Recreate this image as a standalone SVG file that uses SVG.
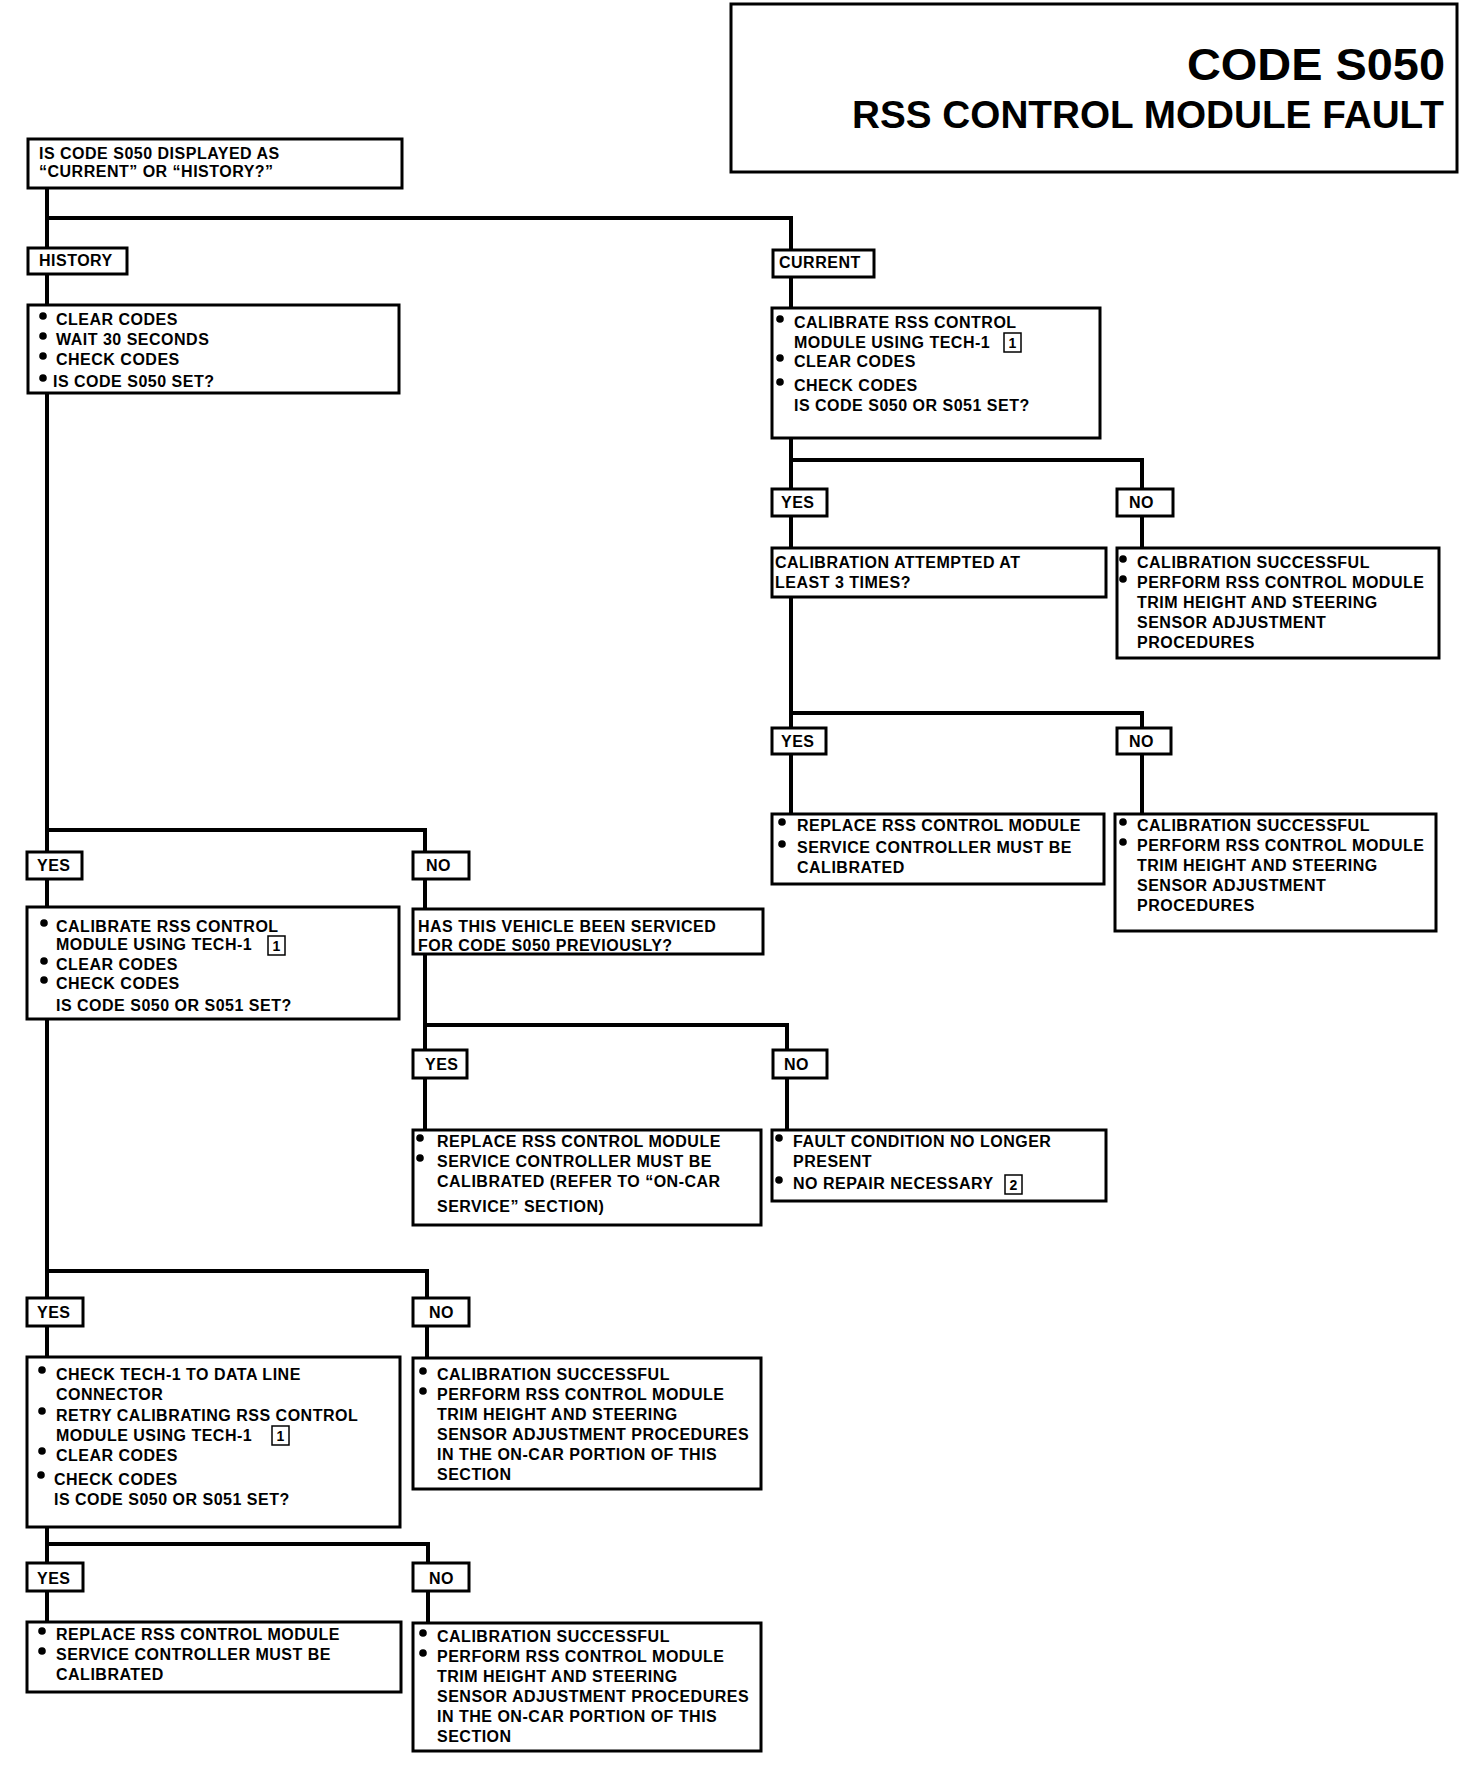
<svg xmlns="http://www.w3.org/2000/svg" width="1472" height="1774" viewBox="0 0 1472 1774">
<style>
.box{fill:#fff;stroke:#000;stroke-width:3}
.c{stroke:#000;stroke-width:4;fill:none}
.t{font-family:"Liberation Sans",Arial,sans-serif;font-weight:bold;font-size:16px;letter-spacing:0.5px;fill:#000}
.fn{fill:#fff;stroke:#000;stroke-width:1.5}
.fnt{font-family:"Liberation Sans",Arial,sans-serif;font-weight:bold;font-size:14px;fill:#000;text-anchor:middle}
.ttl{font-family:"Liberation Sans",Arial,sans-serif;font-weight:bold;fill:#000}
</style>
<defs>
<circle id="b" r="3.8" fill="#000"/>
</defs>
<rect width="1472" height="1774" fill="#fff"/>

<g id="connectors">
<path class="c" d="M47 189 V1622"/>
<path class="c" d="M47 218 H791 V814"/>
<path class="c" d="M791 460 H1142 V548"/>
<path class="c" d="M791 713 H1142 V814"/>
<path class="c" d="M47 830 H425 V1130"/>
<path class="c" d="M425 1025 H787 V1130"/>
<path class="c" d="M47 1271 H427 V1358"/>
<path class="c" d="M47 1544 H428 V1623"/>
</g>

<g id="title">
<rect class="box" x="731" y="4" width="726" height="168"/>
<text class="ttl" x="1187" y="80" font-size="45" textLength="258" lengthAdjust="spacingAndGlyphs">CODE S050</text>
<text class="ttl" x="852" y="128" font-size="39" textLength="592" lengthAdjust="spacingAndGlyphs">RSS CONTROL MODULE FAULT</text>
</g>

<g id="q0">
<rect class="box" x="28" y="139" width="374" height="49"/>
<text class="t" x="39" y="159">IS CODE S050 DISPLAYED AS</text>
<text class="t" x="39" y="177">“CURRENT” OR “HISTORY?”</text>
</g>

<g id="history">
<rect class="box" x="28" y="248" width="99" height="26"/>
<text class="t" x="39" y="266">HISTORY</text>
</g>

<g id="clear">
<rect class="box" x="28" y="305" width="371" height="88"/>
<use href="#b" x="43" y="316"/><use href="#b" x="43" y="336"/><use href="#b" x="43" y="356"/><use href="#b" x="43" y="378"/>
<text class="t" x="56" y="325">CLEAR CODES</text>
<text class="t" x="56" y="345">WAIT 30 SECONDS</text>
<text class="t" x="56" y="365">CHECK CODES</text>
<text class="t" x="53" y="387">IS CODE S050 SET?</text>
</g>

<g id="current">
<rect class="box" x="773" y="250" width="101" height="27"/>
<text class="t" x="779" y="268">CURRENT</text>
</g>

<g id="curcal">
<rect class="box" x="772" y="308" width="328" height="130"/>
<use href="#b" x="780" y="319"/><use href="#b" x="780" y="358"/><use href="#b" x="780" y="382"/>
<text class="t" x="794" y="328">CALIBRATE RSS CONTROL</text>
<text class="t" x="794" y="348">MODULE USING TECH-1</text>
<rect class="fn" x="1004" y="333" width="17" height="19"/>
<text class="fnt" x="1012.5" y="348">1</text>
<text class="t" x="794" y="367">CLEAR CODES</text>
<text class="t" x="794" y="391">CHECK CODES</text>
<text class="t" x="794" y="411">IS CODE S050 OR S051 SET?</text>
</g>

<g id="yes_r1"><rect class="box" x="772" y="489" width="55" height="27"/><text class="t" x="781" y="508">YES</text></g>
<g id="no_r1"><rect class="box" x="1117" y="489" width="56" height="27"/><text class="t" x="1129" y="508">NO</text></g>

<g id="attempted">
<rect class="box" x="772" y="548" width="334" height="49"/>
<text class="t" x="775" y="568">CALIBRATION ATTEMPTED AT</text>
<text class="t" x="775" y="588">LEAST 3 TIMES?</text>
</g>

<g id="succ_r1">
<rect class="box" x="1117" y="548" width="322" height="110"/>
<use href="#b" x="1123" y="559"/><use href="#b" x="1123" y="579"/>
<text class="t" x="1137" y="568">CALIBRATION SUCCESSFUL</text>
<text class="t" x="1137" y="588">PERFORM RSS CONTROL MODULE</text>
<text class="t" x="1137" y="608">TRIM HEIGHT AND STEERING</text>
<text class="t" x="1137" y="628">SENSOR ADJUSTMENT</text>
<text class="t" x="1137" y="648">PROCEDURES</text>
</g>

<g id="yes_r2"><rect class="box" x="772" y="728" width="54" height="26"/><text class="t" x="781" y="747">YES</text></g>
<g id="no_r2"><rect class="box" x="1117" y="728" width="54" height="26"/><text class="t" x="1129" y="747">NO</text></g>

<g id="replace_r">
<rect class="box" x="772" y="814" width="332" height="70"/>
<use href="#b" x="782" y="822"/><use href="#b" x="782" y="844"/>
<text class="t" x="797" y="831">REPLACE RSS CONTROL MODULE</text>
<text class="t" x="797" y="853">SERVICE CONTROLLER MUST BE</text>
<text class="t" x="797" y="873">CALIBRATED</text>
</g>

<g id="succ_r2">
<rect class="box" x="1115" y="814" width="321" height="117"/>
<use href="#b" x="1123" y="822"/><use href="#b" x="1123" y="842"/>
<text class="t" x="1137" y="831">CALIBRATION SUCCESSFUL</text>
<text class="t" x="1137" y="851">PERFORM RSS CONTROL MODULE</text>
<text class="t" x="1137" y="871">TRIM HEIGHT AND STEERING</text>
<text class="t" x="1137" y="891">SENSOR ADJUSTMENT</text>
<text class="t" x="1137" y="911">PROCEDURES</text>
</g>

<g id="yes_l1"><rect class="box" x="27" y="852" width="55" height="27"/><text class="t" x="37" y="871">YES</text></g>
<g id="no_l1"><rect class="box" x="413" y="852" width="56" height="27"/><text class="t" x="426" y="871">NO</text></g>

<g id="cal_l">
<rect class="box" x="27" y="907" width="372" height="112"/>
<use href="#b" x="44" y="923"/><use href="#b" x="44" y="961"/><use href="#b" x="44" y="980"/>
<text class="t" x="56" y="932">CALIBRATE RSS CONTROL</text>
<text class="t" x="56" y="950">MODULE USING TECH-1</text>
<rect class="fn" x="268" y="936" width="17" height="19"/>
<text class="fnt" x="276.5" y="951">1</text>
<text class="t" x="56" y="970">CLEAR CODES</text>
<text class="t" x="56" y="989">CHECK CODES</text>
<text class="t" x="56" y="1011">IS CODE S050 OR S051 SET?</text>
</g>

<g id="serviced">
<rect class="box" x="413" y="909" width="350" height="45"/>
<text class="t" x="418" y="932">HAS THIS VEHICLE BEEN SERVICED</text>
<text class="t" x="418" y="951">FOR CODE S050 PREVIOUSLY?</text>
</g>

<g id="yes_m"><rect class="box" x="413" y="1050" width="54" height="28"/><text class="t" x="425" y="1070">YES</text></g>
<g id="no_m"><rect class="box" x="773" y="1050" width="54" height="28"/><text class="t" x="784" y="1070">NO</text></g>

<g id="replace_m">
<rect class="box" x="413" y="1130" width="348" height="95"/>
<use href="#b" x="420" y="1138"/><use href="#b" x="420" y="1158"/>
<text class="t" x="437" y="1147">REPLACE RSS CONTROL MODULE</text>
<text class="t" x="437" y="1167">SERVICE CONTROLLER MUST BE</text>
<text class="t" x="437" y="1187">CALIBRATED (REFER TO “ON-CAR</text>
<text class="t" x="437" y="1212">SERVICE” SECTION)</text>
</g>

<g id="fault">
<rect class="box" x="772" y="1130" width="334" height="71"/>
<use href="#b" x="779" y="1138"/><use href="#b" x="779" y="1180"/>
<text class="t" x="793" y="1147">FAULT CONDITION NO LONGER</text>
<text class="t" x="793" y="1167">PRESENT</text>
<text class="t" x="793" y="1189">NO REPAIR NECESSARY</text>
<rect class="fn" x="1005" y="1175" width="17" height="19"/>
<text class="fnt" x="1013.5" y="1190">2</text>
</g>

<g id="yes_l2"><rect class="box" x="27" y="1298" width="56" height="28"/><text class="t" x="37" y="1318">YES</text></g>
<g id="no_l2"><rect class="box" x="413" y="1298" width="56" height="28"/><text class="t" x="429" y="1318">NO</text></g>

<g id="check">
<rect class="box" x="27" y="1357" width="373" height="170"/>
<use href="#b" x="42" y="1370"/><use href="#b" x="42" y="1411"/><use href="#b" x="42" y="1451"/><use href="#b" x="41" y="1475"/>
<text class="t" x="56" y="1380">CHECK TECH-1 TO DATA LINE</text>
<text class="t" x="56" y="1400">CONNECTOR</text>
<text class="t" x="56" y="1421">RETRY CALIBRATING RSS CONTROL</text>
<text class="t" x="56" y="1441">MODULE USING TECH-1</text>
<rect class="fn" x="272" y="1426" width="17" height="19"/>
<text class="fnt" x="280.5" y="1441">1</text>
<text class="t" x="56" y="1461">CLEAR CODES</text>
<text class="t" x="54" y="1485">CHECK CODES</text>
<text class="t" x="54" y="1505">IS CODE S050 OR S051 SET?</text>
</g>

<g id="succ_l2">
<rect class="box" x="413" y="1358" width="348" height="131"/>
<use href="#b" x="423" y="1371"/><use href="#b" x="423" y="1391"/>
<text class="t" x="437" y="1380">CALIBRATION SUCCESSFUL</text>
<text class="t" x="437" y="1400">PERFORM RSS CONTROL MODULE</text>
<text class="t" x="437" y="1420">TRIM HEIGHT AND STEERING</text>
<text class="t" x="437" y="1440">SENSOR ADJUSTMENT PROCEDURES</text>
<text class="t" x="437" y="1460">IN THE ON-CAR PORTION OF THIS</text>
<text class="t" x="437" y="1480">SECTION</text>
</g>

<g id="yes_l3"><rect class="box" x="27" y="1563" width="56" height="28"/><text class="t" x="37" y="1584">YES</text></g>
<g id="no_l3"><rect class="box" x="413" y="1563" width="56" height="28"/><text class="t" x="429" y="1584">NO</text></g>

<g id="replace_l3">
<rect class="box" x="27" y="1622" width="374" height="70"/>
<use href="#b" x="42" y="1631"/><use href="#b" x="42" y="1651"/>
<text class="t" x="56" y="1640">REPLACE RSS CONTROL MODULE</text>
<text class="t" x="56" y="1660">SERVICE CONTROLLER MUST BE</text>
<text class="t" x="56" y="1680">CALIBRATED</text>
</g>

<g id="succ_l3">
<rect class="box" x="413" y="1623" width="348" height="128"/>
<use href="#b" x="423" y="1633"/><use href="#b" x="423" y="1653"/>
<text class="t" x="437" y="1642">CALIBRATION SUCCESSFUL</text>
<text class="t" x="437" y="1662">PERFORM RSS CONTROL MODULE</text>
<text class="t" x="437" y="1682">TRIM HEIGHT AND STEERING</text>
<text class="t" x="437" y="1702">SENSOR ADJUSTMENT PROCEDURES</text>
<text class="t" x="437" y="1722">IN THE ON-CAR PORTION OF THIS</text>
<text class="t" x="437" y="1742">SECTION</text>
</g>
</svg>
